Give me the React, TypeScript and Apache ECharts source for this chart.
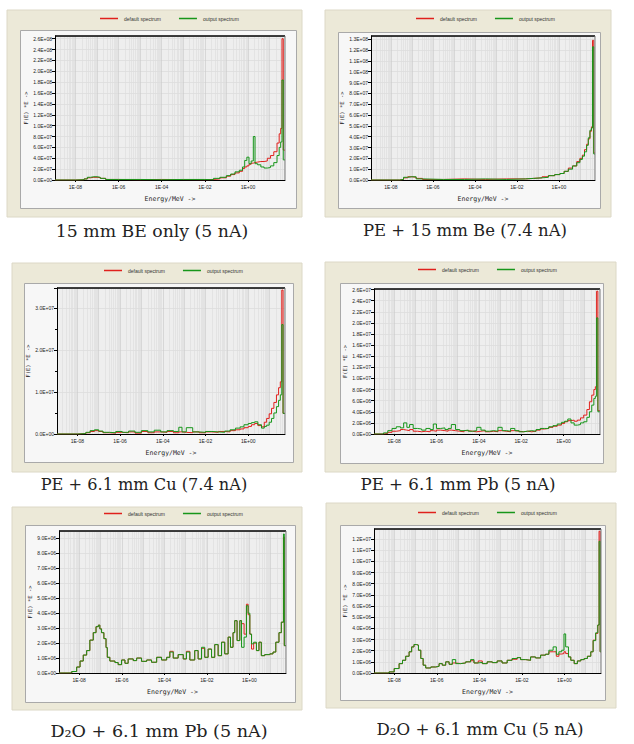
import { useEffect, useRef } from 'react';
import * as echarts from 'echarts';

// ---------- shared axis texts ----------
const X_MIN = -8.95; // log10(E / MeV) at the left plot edge
const X_MAX = 1.72; // log10(E / MeV) at the right plot edge
const xTickExponents = [-8, -6, -4, -2, 0];
const seriesNames = ['default spectrum', 'output spectrum'];
const xTitle = 'Energy/MeV ->';
const yTitle = 'F(E) *E ->';
const captions = [
  '15 mm BE only (5 nA)',
  'PE + 15 mm Be (7.4 nA)',
  'PE + 6.1 mm Cu (7.4 nA)',
  'PE + 6.1 mm Pb (5 nA)',
  'D\u2082O + 6.1 mm Pb (5 nA)',
  'D\u2082O + 6.1 mm Cu (5 nA)',
];

// ---------- panel 1: 15 mm BE only (values in 1E+07) ----------
const p1Unit = 1e7;
const p1LogE = [-8.95, -8.0, -7.6, -7.45, -7.3, -7.15, -7.0, -6.85, -6.6, -6.0, -5.0, -4.0, -3.0, -2.0, -1.6, -1.3, -1.0, -0.8, -0.6, -0.4, -0.25, -0.15, -0.05, 0.05, 0.15, 0.25, 0.33, 0.45, 0.6, 0.75, 0.9, 1.05, 1.2, 1.35, 1.45, 1.52, 1.58, 1.64, 1.72];
const p1Default = [0, 0.05, 0.2, 0.4, 0.5, 0.5, 0.45, 0.3, 0.1, 0.05, 0.1, 0.08, 0.05, 0.1, 0.2, 0.4, 0.7, 1.0, 1.3, 1.6, 2.1, 2.4, 2.6, 2.9, 3.1, 3.2, 3.3, 3.4, 3.4, 3.5, 4.0, 4.5, 5.2, 6.8, 8.5, 9.5, 26.0, 5.5, 5.5];
const p1Output = [0, 0.05, 0.2, 0.5, 0.6, 0.6, 0.5, 0.3, 0.1, 0.1, 0.05, 0.1, 0.1, 0.05, 0.3, 0.5, 0.8, 1.1, 1.5, 1.8, 2.4, 3.6, 4.2, 3.0, 3.5, 8.0, 3.0, 2.8, 2.4, 2.2, 2.3, 2.6, 3.2, 4.5, 6.0, 7.0, 18.4, 3.7, 3.7];

// ---------- panel 2: PE + 15 mm Be (values in 1E+07) ----------
const p2Unit = 1e7;
const p2LogE = [-8.95, -7.6, -7.4, -7.2, -7.0, -6.8, -6.5, -5.5, -4.5, -3.5, -2.5, -1.6, -1.2, -0.8, -0.5, -0.2, 0.05, 0.25, 0.45, 0.65, 0.85, 1.0, 1.12, 1.22, 1.32, 1.4, 1.48, 1.55, 1.6, 1.66, 1.72];
const p2Default = [0, 0.05, 0.2, 0.3, 0.25, 0.15, 0.05, 0.1, 0.05, 0.1, 0.1, 0.15, 0.2, 0.3, 0.4, 0.5, 0.6, 0.8, 1.1, 1.3, 1.7, 2.0, 2.3, 2.8, 3.3, 3.8, 4.5, 4.9, 12.9, 2.5, 2.5];
const p2Output = [0, 0.05, 0.25, 0.3, 0.3, 0.1, 0.05, 0.05, 0.1, 0.05, 0.1, 0.15, 0.2, 0.25, 0.4, 0.5, 0.6, 0.8, 1.0, 1.3, 1.6, 1.9, 2.2, 2.6, 3.2, 3.9, 4.6, 4.8, 12.3, 2.4, 2.4];

// ---------- panel 3: PE + 6.1 mm Cu (values in 1E+07) ----------
const p3Unit = 1e7;
const p3LogE = [-8.95, -8.0, -7.6, -7.4, -7.2, -7.0, -6.8, -6.5, -6.2, -5.9, -5.6, -5.3, -5.0, -4.7, -4.4, -4.1, -3.8, -3.5, -3.25, -3.1, -2.9, -2.6, -2.3, -2.0, -1.7, -1.4, -1.1, -0.85, -0.6, -0.38, -0.2, 0.0, 0.15, 0.3, 0.45, 0.62, 0.75, 0.86, 0.98, 1.09, 1.2, 1.32, 1.42, 1.5, 1.57, 1.63, 1.72];
const p3Default = [0, 0.01, 0.03, 0.06, 0.08, 0.06, 0.03, 0.02, 0.04, 0.03, 0.05, 0.02, 0.06, 0.03, 0.05, 0.04, 0.06, 0.03, 0.05, 0.04, 0.03, 0.05, 0.03, 0.05, 0.04, 0.06, 0.05, 0.08, 0.1, 0.12, 0.15, 0.18, 0.22, 0.25, 0.2, 0.17, 0.28, 0.37, 0.48, 0.61, 0.75, 0.93, 1.1, 1.24, 3.42, 0.49, 0.49];
const p3Output = [0, 0.01, 0.04, 0.08, 0.1, 0.07, 0.04, 0.03, 0.06, 0.04, 0.07, 0.04, 0.08, 0.05, 0.09, 0.05, 0.08, 0.06, 0.16, 0.05, 0.15, 0.05, 0.04, 0.06, 0.05, 0.04, 0.07, 0.1, 0.14, 0.17, 0.22, 0.25, 0.27, 0.29, 0.22, 0.14, 0.18, 0.21, 0.28, 0.37, 0.5, 0.65, 0.8, 0.93, 2.6, 0.49, 0.49];

// ---------- panel 4: PE + 6.1 mm Pb (values in 1E+06) ----------
const p4Unit = 1e6;
const p4LogE = [-8.95, -8.5, -8.3, -8.1, -7.9, -7.7, -7.55, -7.4, -7.27, -7.1, -6.9, -6.7, -6.5, -6.3, -6.15, -6.0, -5.8, -5.6, -5.45, -5.3, -5.1, -4.9, -4.7, -4.5, -4.3, -4.1, -3.9, -3.7, -3.5, -3.3, -3.1, -2.9, -2.7, -2.5, -2.3, -2.1, -1.9, -1.7, -1.5, -1.3, -1.1, -0.9, -0.7, -0.5, -0.3, -0.1, 0.05, 0.2, 0.35, 0.5, 0.65, 0.8, 0.95, 1.1, 1.22, 1.33, 1.43, 1.5, 1.56, 1.62, 1.72];
const p4Default = [0, 0.1, 0.3, 0.5, 0.6, 0.8, 0.7, 0.6, 0.8, 0.5, 0.4, 0.5, 0.4, 0.6, 0.5, 0.7, 0.6, 0.5, 0.7, 0.6, 0.5, 0.4, 0.6, 0.5, 0.4, 0.5, 0.6, 0.4, 0.5, 0.4, 0.6, 0.5, 0.4, 0.6, 0.5, 0.4, 0.5, 0.4, 0.5, 0.7, 0.9, 1.0, 1.2, 1.4, 1.6, 1.9, 2.2, 2.4, 2.5, 2.3, 2.5, 2.9, 3.4, 4.4, 5.8, 7.0, 8.0, 8.5, 25.7, 4.2, 4.2];
const p4Output = [0, 0.2, 0.6, 1.0, 1.3, 1.1, 2.0, 1.2, 1.7, 1.0, 0.9, 0.7, 1.0, 0.8, 1.8, 1.0, 1.1, 0.8, 1.0, 1.7, 0.8, 0.6, 0.7, 0.5, 0.6, 1.2, 0.7, 0.5, 0.6, 0.5, 1.2, 0.6, 0.5, 1.0, 0.6, 0.4, 0.5, 0.6, 0.5, 0.8, 1.0, 1.0, 1.3, 1.5, 1.8, 2.1, 2.3, 2.7, 2.0, 1.6, 1.7, 2.0, 2.2, 3.0, 4.0, 5.2, 6.4, 6.8, 20.9, 4.0, 4.0];

// ---------- panel 5: D2O + 6.1 mm Pb (values in 1E+06) ----------
const p5Unit = 1e6;
const p5LogE = [-8.95, -8.43, -8.35, -8.12, -7.96, -7.81, -7.65, -7.5, -7.34, -7.21, -7.1, -7.03, -6.95, -6.84, -6.74, -6.68, -6.56, -6.32, -6.17, -6.01, -5.85, -5.7, -5.46, -5.3, -5.07, -4.83, -4.6, -4.36, -4.13, -3.89, -3.74, -3.58, -3.35, -3.11, -2.96, -2.8, -2.57, -2.41, -2.25, -2.1, -1.94, -1.78, -1.63, -1.47, -1.31, -1.16, -1.0, -0.89, -0.77, -0.69, -0.58, -0.45, -0.37, -0.25, -0.14, -0.06, 0.02, 0.1, 0.2, 0.33, 0.45, 0.56, 0.72, 0.96, 1.11, 1.24, 1.39, 1.5, 1.6, 1.64, 1.72];
const p5Default = [0, 0, 0.1, 0.4, 0.8, 1.2, 1.5, 2.2, 2.7, 3.1, 3.2, 2.95, 2.7, 2.3, 1.7, 1.05, 0.8, 0.7, 0.56, 0.87, 0.65, 0.94, 0.83, 1.0, 0.78, 0.87, 0.72, 1.05, 0.87, 1.05, 1.45, 1.0, 1.23, 0.94, 1.45, 0.87, 1.5, 0.94, 1.65, 1.05, 1.6, 1.05, 1.9, 1.16, 2.06, 1.28, 2.4, 1.72, 2.7, 3.5, 2.17, 3.5, 3.3, 2.6, 4.6, 3.9, 2.6, 1.6, 2.0, 1.5, 2.06, 1.16, 1.23, 1.28, 1.4, 2.06, 2.7, 3.4, 9.1, 1.83, 1.83];
const p5Output = [0, 0, 0.1, 0.4, 0.8, 1.2, 1.5, 2.2, 2.7, 3.1, 3.2, 2.95, 2.7, 2.3, 1.7, 1.05, 0.8, 0.7, 0.56, 0.87, 0.65, 0.94, 0.83, 1.0, 0.78, 0.87, 0.72, 1.05, 0.87, 1.05, 1.4, 1.0, 1.23, 0.94, 1.4, 0.87, 1.5, 0.94, 1.72, 1.05, 1.6, 1.05, 1.9, 1.16, 2.06, 1.28, 2.4, 1.72, 2.7, 3.5, 2.17, 3.5, 1.72, 2.4, 4.5, 4.0, 2.6, 1.95, 2.06, 1.5, 2.06, 1.16, 1.23, 1.28, 1.4, 2.06, 2.7, 3.4, 9.3, 1.83, 1.83];

// ---------- panel 6: D2O + 6.1 mm Cu (values in 1E+06) ----------
const p6Unit = 1e6;
const p6LogE = [-8.95, -8.3, -8.24, -8.0, -7.77, -7.61, -7.46, -7.3, -7.18, -7.07, -6.96, -6.86, -6.75, -6.64, -6.52, -6.28, -6.05, -5.89, -5.74, -5.58, -5.42, -5.27, -5.11, -4.88, -4.64, -4.41, -4.25, -4.05, -3.86, -3.63, -3.39, -3.16, -2.93, -2.69, -2.46, -2.22, -2.06, -1.83, -1.59, -1.36, -1.12, -0.89, -0.73, -0.53, -0.38, -0.26, -0.13, -0.02, 0.06, 0.19, 0.3, 0.46, 0.61, 0.77, 0.93, 1.08, 1.24, 1.35, 1.47, 1.57, 1.63, 1.68, 1.72];
const p6Default = [0, 0, 0.1, 0.4, 0.84, 1.14, 1.5, 1.9, 2.34, 2.55, 2.5, 2.04, 1.3, 0.7, 0.45, 0.54, 0.6, 0.84, 0.7, 1.0, 0.78, 0.9, 0.84, 0.9, 1.0, 1.1, 0.9, 1.08, 0.84, 1.0, 0.93, 1.08, 0.9, 1.14, 1.23, 1.38, 1.2, 1.14, 1.44, 1.35, 1.6, 1.68, 1.9, 1.9, 1.5, 1.7, 1.74, 1.9, 1.74, 1.44, 1.14, 0.84, 1.08, 1.2, 1.3, 1.5, 1.9, 2.94, 3.54, 4.3, 12.7, 1.9, 1.9];
const p6Output = [0, 0, 0.1, 0.4, 0.84, 1.14, 1.5, 1.9, 2.34, 2.55, 2.5, 2.04, 1.3, 0.7, 0.45, 0.54, 0.6, 0.84, 0.7, 1.0, 0.78, 1.2, 0.84, 0.9, 1.0, 1.2, 0.9, 0.95, 0.84, 1.0, 0.93, 1.08, 0.9, 1.14, 1.3, 1.38, 1.2, 1.14, 1.44, 1.35, 1.6, 1.68, 2.04, 2.34, 1.68, 1.9, 2.04, 3.5, 2.34, 1.44, 1.14, 0.84, 1.08, 1.2, 1.3, 1.5, 1.9, 2.9, 3.6, 4.3, 11.8, 1.9, 1.9];

// ---------- y axes ----------
const yMaxes = [2.65e8, 1.33e8, 3.47e7, 2.61e7, 9.5e6, 1.29e7];
const ySteps = [2e7, 1e7, 1e7, 2e6, 1e6, 1e6];

const panels = [
  { logE: p1LogE, def: p1Default, out: p1Output, unit: p1Unit },
  { logE: p2LogE, def: p2Default, out: p2Output, unit: p2Unit },
  { logE: p3LogE, def: p3Default, out: p3Output, unit: p3Unit },
  { logE: p4LogE, def: p4Default, out: p4Output, unit: p4Unit },
  { logE: p5LogE, def: p5Default, out: p5Output, unit: p5Unit },
  { logE: p6LogE, def: p6Default, out: p6Output, unit: p6Unit },
];

// ---------- layout (page pixels) ----------
const frames = [
  { outer: [7, 10, 295, 207], inner: [20, 30, 276, 178], grid: [55, 36, 230, 144], legend: [100, 20], caption: [152, 232], capScale: 1.08 },
  { outer: [325, 10, 286, 207], inner: [338, 32, 262, 176], grid: [371, 36, 224, 144], legend: [416, 20], caption: [465, 231], capScale: 1.03 },
  { outer: [12, 263, 290, 209], inner: [24, 283, 269, 179], grid: [57, 288, 228, 146], legend: [104, 272], caption: [144, 485], capScale: 1.01 },
  { outer: [325, 262, 291, 210], inner: [340, 283, 263, 180], grid: [374, 289, 226, 145], legend: [418, 271], caption: [458, 485], capScale: 1.04 },
  { outer: [12, 507, 290, 203], inner: [25, 525, 270, 177], grid: [59, 531, 227, 142], legend: [104, 515], caption: [159, 731], capScale: 1.1 },
  { outer: [326, 503, 290, 205], inner: [340, 525, 265, 175], grid: [374, 529, 227, 144], legend: [418, 514], caption: [480, 730], capScale: 1.04 },
];

const RED = '#e0201c';
const GREEN = '#17961a';

function sci(v: number): string {
  if (Math.abs(v) < 1e-9) return '0.0E+00';
  const [m, e] = v.toExponential(1).split('e');
  const n = parseInt(e, 10);
  return `${m}E${n < 0 ? '-' : '+'}${String(Math.abs(n)).padStart(2, '0')}`;
}

function xFmt(v: number): string {
  const n = Math.round(v);
  return `1E${n < 0 ? '-' : '+'}${String(Math.abs(n)).padStart(2, '0')}`;
}

function logGrid() {
  const out: any[] = [];
  for (let n = -9; n <= 1; n++) {
    for (let k = 1; k <= 9; k++) {
      const v = n + Math.log10(k);
      if (v > X_MIN + 0.02 && v < X_MAX - 0.02) {
        out.push({ xAxis: v, lineStyle: { color: k === 1 ? '#c8c8c8' : '#dcdcdc', width: 0.6, type: 'solid' } });
      }
    }
  }
  return out;
}

function buildOption() {
  const graphic: any[] = [];
  frames.forEach((f, i) => {
    const [ox, oy, ow, oh] = f.outer;
    const [ix, iy, iw, ih] = f.inner;
    const [gx, gy, gw, gh] = f.grid;
    graphic.push({ type: 'rect', z: -20, silent: true, shape: { x: ox, y: oy, width: ow, height: oh }, style: { fill: '#ece9d8', stroke: '#dcd8c6', lineWidth: 1 } });
    graphic.push({ type: 'rect', z: -19, silent: true, shape: { x: ix + 0.5, y: iy + 0.5, width: iw, height: ih }, style: { fill: '#f7f7f7', stroke: '#a9a9a9', lineWidth: 1 } });
    graphic.push({ type: 'rect', z: -18, silent: true, shape: { x: gx, y: gy, width: gw, height: gh }, style: { fill: '#eeeeee' } });
    graphic.push({ type: 'line', z: 20, silent: true, shape: { x1: gx, y1: gy, x2: gx + gw, y2: gy }, style: { stroke: '#000', lineWidth: 1.5 } });
    graphic.push({ type: 'line', z: 20, silent: true, shape: { x1: gx + gw, y1: gy, x2: gx + gw, y2: gy + gh }, style: { stroke: '#7a7a7a', lineWidth: 1 } });
    graphic.push({
      type: 'text', z: 20, silent: true, x: f.caption[0], y: f.caption[1], scaleX: f.capScale, scaleY: 1,
      style: { text: captions[i], fontSize: 16, fontFamily: 'DejaVu Serif', fill: '#222', align: 'center', verticalAlign: 'middle', textAlign: 'center', textVerticalAlign: 'middle' },
    });
  });

  const legend = frames.map((f) => ({
    left: f.legend[0], top: f.legend[1] - 4, padding: 0, data: seriesNames, icon: 'rect',
    itemWidth: 18, itemHeight: 1.5, itemGap: 18,
    textStyle: { fontSize: 5, color: '#333', fontFamily: 'Liberation Sans', padding: [0, 0, 0, 1] },
  }));

  const grid = frames.map((f) => ({ left: f.grid[0], top: f.grid[1], width: f.grid[2], height: f.grid[3], show: false }));

  const xAxis = frames.map((_, i) => ({
    type: 'value', gridIndex: i, min: X_MIN, max: X_MAX,
    name: xTitle, nameLocation: 'middle', nameGap: 15,
    nameTextStyle: { fontSize: 6.5, fontFamily: 'DejaVu Sans Mono', color: '#222' },
    axisLine: { show: true, onZero: false, lineStyle: { color: '#000', width: 1 } },
    axisTick: { show: true, length: 2, customValues: xTickExponents, lineStyle: { color: '#000' } },
    axisLabel: { fontSize: 5, color: '#222', margin: 4, fontFamily: 'Liberation Sans', customValues: xTickExponents, formatter: xFmt },
    splitLine: { show: false },
  }));

  const yAxis = frames.map((_, i) => ({
    type: 'value', gridIndex: i, min: 0, max: yMaxes[i], interval: ySteps[i],
    name: yTitle, nameLocation: 'middle', nameGap: 23,
    nameTextStyle: { fontSize: 5.5, fontFamily: 'DejaVu Sans Mono', color: '#222' },
    axisLine: { show: true, onZero: false, lineStyle: { color: '#000', width: 1 } },
    axisTick: { show: true, length: 3, lineStyle: { color: '#000' } },
    minorTick: { show: i === 2, splitNumber: 2, length: 2, lineStyle: { color: '#000' } },
    axisLabel: { fontSize: 5, color: '#222', margin: 3, fontFamily: 'Liberation Sans', formatter: sci, showMaxLabel: false },
    splitLine: { show: true, lineStyle: { color: '#d6d6d6', width: 0.6 } },
  }));

  const series: any[] = [];
  panels.forEach((p, i) => {
    series.push({
      type: 'line', name: seriesNames[0], xAxisIndex: i, yAxisIndex: i, step: 'end', symbol: 'none', showSymbol: false,
      color: RED, lineStyle: { color: RED, width: 1 }, z: 3,
      data: p.logE.map((x, j) => [x, p.def[j] * p.unit]),
      markLine: { silent: true, symbol: ['none', 'none'], z: 1, label: { show: false }, emphasis: { disabled: true }, data: logGrid() },
    });
    series.push({
      type: 'line', name: seriesNames[1], xAxisIndex: i, yAxisIndex: i, step: 'end', symbol: 'none', showSymbol: false,
      color: GREEN, lineStyle: { color: GREEN, width: 1 }, z: 4,
      data: p.logE.map((x, j) => [x, p.out[j] * p.unit]),
    });
  });

  return { animation: false, backgroundColor: '#ffffff', graphic: { elements: graphic }, legend, grid, xAxis, yAxis, series };
}

export default function App() {
  const ref = useRef<HTMLDivElement>(null);
  useEffect(() => {
    if (!ref.current) return;
    const chart = echarts.init(ref.current, undefined, { renderer: 'svg' });
    chart.setOption(buildOption() as any);
    return () => chart.dispose();
  }, []);
  return <div ref={ref} style={{ position: 'absolute', left: 0, top: 0, width: 634, height: 744 }} />;
}
